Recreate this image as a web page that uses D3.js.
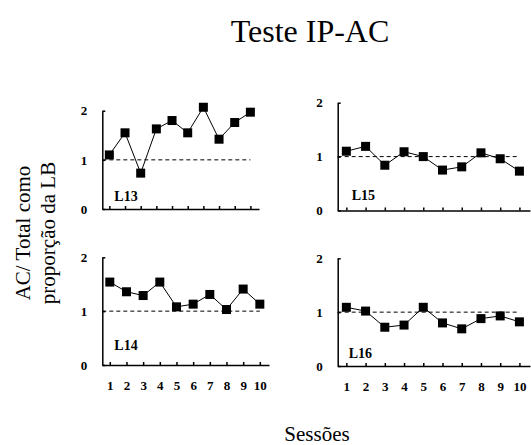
<!DOCTYPE html>
<html>
<head>
<meta charset="utf-8">
<script src="https://cdn.jsdelivr.net/npm/d3@7"></script>
<style>
  html, body { margin: 0; padding: 0; background: #fff; }
  svg { display: block; font-family: "Liberation Serif", "Times New Roman", serif; }
  .axis path, .axis line { stroke: #000; stroke-width: 1.5; }
  .axis text { font-weight: bold; fill: #000; }
</style>
</head>
<body>
<div id="chart"></div>
<script>
// ---- data ----
const sessions = [1, 2, 3, 4, 5, 6, 7, 8, 9, 10];
const l13 = [1.10, 1.55, 0.73, 1.63, 1.80, 1.55, 2.07, 1.42, 1.76, 1.97];
const l14 = [1.54, 1.36, 1.29, 1.54, 1.08, 1.13, 1.31, 1.03, 1.41, 1.13];
const l15 = [1.10, 1.19, 0.84, 1.09, 1.00, 0.75, 0.81, 1.07, 0.96, 0.73];
const l16 = [1.09, 1.02, 0.72, 0.76, 1.09, 0.80, 0.69, 0.88, 0.93, 0.82];
const yTicks = [0, 1, 2];
const baseline = 1;

const W = 531, H = 445;
const FONT = '"Liberation Serif", "Times New Roman", serif';
const svg = d3.select('#chart').append('svg').attr('width', W).attr('height', H);

// panel boxes (pixel layout), matching the four small multiples
const panels = [
  { name: 'L13', values: l13, x0: 102.3, x1: 259, y0: 209,   y1: 110.7, labels: false, lx: 12, ly: 8 },
  { name: 'L15', values: l15, x0: 337.7, x1: 530, y0: 210.5, y1: 102.7, labels: false, lx: 14, ly: 11 },
  { name: 'L14', values: l14, x0: 102.3, x1: 269, y0: 365,   y1: 257.3, labels: true,  lx: 12, ly: 15 },
  { name: 'L16', values: l16, x0: 337.7, x1: 530, y0: 366,   y1: 258.3, labels: true,  lx: 11, ly: 8 }
];

panels.forEach(function (p) {
  const x = d3.scaleLinear().domain([0.55, 10.55]).range([p.x0, p.x1]);
  const y = d3.scaleLinear().domain([0, 2]).range([p.y0, p.y1]);
  const g = svg.append('g');

  // dashed reference line at 1
  g.append('line')
    .attr('x1', x(0.55)).attr('x2', x(sessions[sessions.length - 1]))
    .attr('y1', y(baseline)).attr('y2', y(baseline))
    .attr('stroke', '#000').attr('stroke-width', 1).attr('stroke-dasharray', '4,3');

  // axes
  const xAxis = d3.axisBottom(x).tickValues(sessions).tickSizeInner(-3).tickSizeOuter(0).tickPadding(16);
  if (!p.labels) xAxis.tickFormat('');
  g.append('g').attr('class', 'axis').attr('transform', 'translate(0,' + p.y0 + ')').call(xAxis)
    .attr('font-family', FONT).attr('font-size', 13);

  const yAxis = d3.axisLeft(y).tickValues(yTicks).tickSizeInner(-3).tickSizeOuter(0).tickPadding(15).tickFormat(d3.format('d'));
  g.append('g').attr('class', 'axis').attr('transform', 'translate(' + p.x0 + ',0)').call(yAxis)
    .attr('font-family', FONT).attr('font-size', 13);

  // series
  const line = d3.line().x(function (d, i) { return x(sessions[i]); }).y(function (d) { return y(d); });
  g.append('path').datum(p.values)
    .attr('fill', 'none').attr('stroke', '#000').attr('stroke-width', 1).attr('d', line);

  const s = 9;
  g.selectAll('rect.pt').data(p.values).enter().append('rect')
    .attr('class', 'pt')
    .attr('x', function (d, i) { return x(sessions[i]) - s / 2; })
    .attr('y', function (d) { return y(d) - s / 2; })
    .attr('width', s).attr('height', s).attr('fill', '#000');

  // panel label
  g.append('text')
    .attr('x', p.x0 + p.lx).attr('y', p.y0 - p.ly)
    .attr('font-weight', 'bold').attr('font-size', 14)
    .text(p.name);
});

// title
svg.append('text').attr('x', 310).attr('y', 42).attr('text-anchor', 'middle')
  .attr('font-size', 32).text('Teste IP-AC');

// x axis title
svg.append('text').attr('x', 317).attr('y', 441).attr('text-anchor', 'middle')
  .attr('font-size', 21).text('Sessões');

// y axis title (two lines, rotated)
const yt = svg.append('text').attr('transform', 'translate(30,233) rotate(-90)')
  .attr('text-anchor', 'middle').attr('font-size', 21);
yt.append('tspan').attr('x', 0).attr('y', 0).text('AC/ Total como');
yt.append('tspan').attr('x', 0).attr('y', 25).text('proporção da LB');
</script>
</body>
</html>
